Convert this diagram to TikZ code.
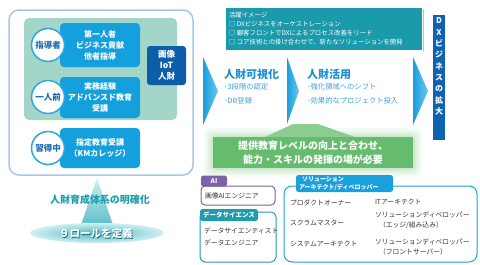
\documentclass[tikz,border=0pt]{standalone}
\usepackage{fontspec}
\setmainfont{Noto Sans CJK JP}
\usetikzlibrary{shapes.geometric,shadings}
\definecolor{cOuter}{HTML}{A8C7EA}
\definecolor{cInner}{HTML}{A3D5C8}
\definecolor{cBlue}{HTML}{14A0DC}
\definecolor{cCircle}{HTML}{2EA7E0}
\definecolor{cDkText}{HTML}{1A6BB3}
\definecolor{cDkBlue}{HTML}{0D5EA9}
\definecolor{cAct}{HTML}{1A9AAA}
\definecolor{cChev}{HTML}{1A9EDE}
\definecolor{cChevL}{HTML}{6CC6EF}
\definecolor{cHead}{HTML}{1B8FD3}
\definecolor{cGreen}{HTML}{65BC6F}
\definecolor{cGreenL}{HTML}{8CCD8F}
\definecolor{cDX}{HTML}{0F62B0}
\definecolor{cPurple}{HTML}{7D62A8}
\definecolor{cTealB}{HTML}{1E9DAE}
\definecolor{cSol}{HTML}{1BA0DE}
\definecolor{cTri}{HTML}{4FB8C2}
\definecolor{cTriL}{HTML}{D2EFF1}
\definecolor{cTxt}{HTML}{333333}
\begin{document}
\begin{tikzpicture}[x=1pt,y=-1pt,
  every node/.style={inner sep=0pt,outer sep=0pt},
  bluebox/.style={fill=cBlue,rounded corners=4pt,text=white,align=center,
    font=\bfseries\fontsize{8}{11}\selectfont,minimum width=80pt},
  roundlbl/.style={circle,fill=white,draw=cCircle,line width=1.5pt,minimum size=33pt,
    text=cDkText,font=\bfseries\fontsize{8.5}{10}\selectfont},
  chev/.style={left color=cChev,right color=cChevL},
  head/.style={anchor=west,text=cHead,font=\bfseries\fontsize{11}{13}\selectfont},
  item/.style={anchor=west,text=cHead!85,font=\fontsize{7.3}{9}\selectfont},
  tabtxt/.style={text=white,font=\bfseries\fontsize{6.5}{8}\selectfont},
  role/.style={anchor=west,text=cTxt,font=\fontsize{6.8}{8}\selectfont}]
\useasboundingbox (0,0) rectangle (480,265);

% ---------- left panel ----------
\draw[cOuter,line width=1.5pt,fill=white,rounded corners=10pt] (9,10) rectangle (193,175);
\fill[cInner,rounded corners=5pt] (24,18) rectangle (177,120);
\node[bluebox,minimum height=44pt] (b1) at (100,45) {第一人者\\ビジネス貢献\\他者指導};
\node[bluebox,minimum height=41pt] (b2) at (100,97.5) {実務経験\\アドバンスド教育\\受講};
\node[bluebox,minimum height=40pt] (b3) at (100,148) {指定教育受講\\（KMカレッジ）};
\node[roundlbl] (c1) at (48,45) {指導者};
\node[roundlbl] (c2) at (48,97) {一人前};
\node[roundlbl] (c3) at (48,148) {習得中};
\node[fill=cDkBlue,rounded corners=3pt,minimum width=39pt,minimum height=39pt,
  text=white,align=center,font=\bfseries\fontsize{8.5}{11}\selectfont] (iot) at (166.5,65.5) {画像\\IoT\\人財};

% ---------- foundation ----------
\shade[top color=cTriL,bottom color=cTri] (97,178) -- (115,231) -- (79,231) -- cycle;
\node[ellipse,minimum width=134pt,minimum height=20pt,inner color=cTri,outer color=cTriL] (ell) at (97,233) {};
\node[text=cTealB,font=\bfseries\fontsize{10}{12}\selectfont] (sys) at (100,200) {人財育成体系の明確化};
\node[text=cTealB!70!black,font=\bfseries\fontsize{10.5}{12}\selectfont] (roles0) at (96.6,234.6) {９ロールを定義};
\node[text=white,font=\bfseries\fontsize{10.5}{12}\selectfont] (roles) at (96,234) {９ロールを定義};

% ---------- activity box ----------
\fill[black!25] (226.5,8.5) rectangle (423.5,50.5);
\node[fill=cAct,draw=white,line width=0.8pt,minimum width=197pt,minimum height=43pt] (act) at (323.5,28.5) {};
\node[anchor=west,text=white,align=left,font=\fontsize{6.4}{9}\selectfont] (acttxt) at (229,28.5)
  {活躍イメージ\\□ DXビジネスをオーケストレーション\\□ 顧客フロントでDXによるプロセス改善をリード\\□ コア技術との掛け合わせで、新たなソリューションを開発};

% ---------- chevrons ----------
\shade[chev] (203,57) -- (218,91) -- (203,125) -- cycle;
\shade[chev] (287,57) -- (299,91) -- (287,124) -- cycle;
\shade[chev] (413,57) -- (428,91) -- (413,125) -- cycle;

\node[head] (h1) at (224,74) {人財可視化};
\node[item] (i11) at (224,87) {･3段階の認定};
\node[item] (i12) at (224,101) {･DB登録};
\node[head] (h2) at (307,74) {人財活用};
\node[item] (i21) at (307,87) {･強化領域へのシフト};
\node[item] (i22) at (307,101) {･効果的なプロジェクト投入};

% ---------- DX box ----------
\node[fill=cDX,minimum width=12pt,minimum height=125pt] (dx) at (439,77.5) {};
\node[text=white,align=center,font=\bfseries\fontsize{8}{11.3}\selectfont] (dxt) at (439,66.5)
  {D\\X\\ビ\\ジ\\ネ\\ス\\の\\拡\\大};

% ---------- green need box ----------
\foreach \g/\o in {9/0.07,7/0.09,5/0.11,3/0.14,1.5/0.18}
  \fill[cGreenL,opacity=\o,rounded corners=6pt] (213-\g,137-\g) rectangle (413+\g,168+\g);
\fill[cGreenL] (265,137) -- (293,124) -- (318,124) -- (355,137) -- cycle;
\node[fill=cGreen,minimum width=200pt,minimum height=31pt,text=white,align=center,
  font=\bfseries\fontsize{10}{14}\selectfont] (need) at (313,152.5)
  {提供教育レベルの向上と合わせ、\\能力・スキルの発揮の場が必要};

% ---------- role boxes ----------
\draw[cPurple,line width=1pt,rounded corners=4pt] (201,186) rectangle (275,205);
\node[fill=cPurple,rounded corners=2.5pt,minimum width=26pt,minimum height=11pt,tabtxt] (ait) at (214,181) {AI};
\node[role] (ai1) at (205,196) {画像AIエンジニア};

\draw[cTealB,line width=1pt,rounded corners=5pt] (200,212) rectangle (276,262);
\node[fill=cTealB,rounded corners=2.5pt,minimum width=58pt,minimum height=12pt,tabtxt] (dst) at (229,215) {データサイエンス};
\node[role] (ds1) at (204,231) {データサイエンティスト};
\node[role] (ds2) at (204,243) {データエンジニア};

\draw[cSol,line width=1pt,rounded corners=8pt] (284,186) rectangle (477,262);
\node[fill=cSol,rounded corners=2.5pt,minimum width=97pt,minimum height=17pt] (solt) at (344.5,183.5) {};
\node[anchor=west,align=left,text=white,font=\bfseries\fontsize{6}{7.5}\selectfont] (soltt) at (299,183.5)
  {\hspace{3pt}ソリューション\\アーキテクト/ディベロッパー};
\node[role] (s1) at (290,203) {プロダクトオーナー};
\node[role] (s2) at (290,223) {スクラムマスター};
\node[role] (s3) at (290,244) {システムアーキテクト};
\node[role] (s4) at (375,202) {ITアーキテクト};
\node[role] (s5) at (375,215) {ソリューションディベロッパー};
\node[role] (s6) at (379,225) {（エッジ/組み込み）};
\node[role] (s7) at (375,242) {ソリューションディベロッパー};
\node[role] (s8) at (379,252) {（フロントサーバー）};
\end{tikzpicture}
\end{document}
